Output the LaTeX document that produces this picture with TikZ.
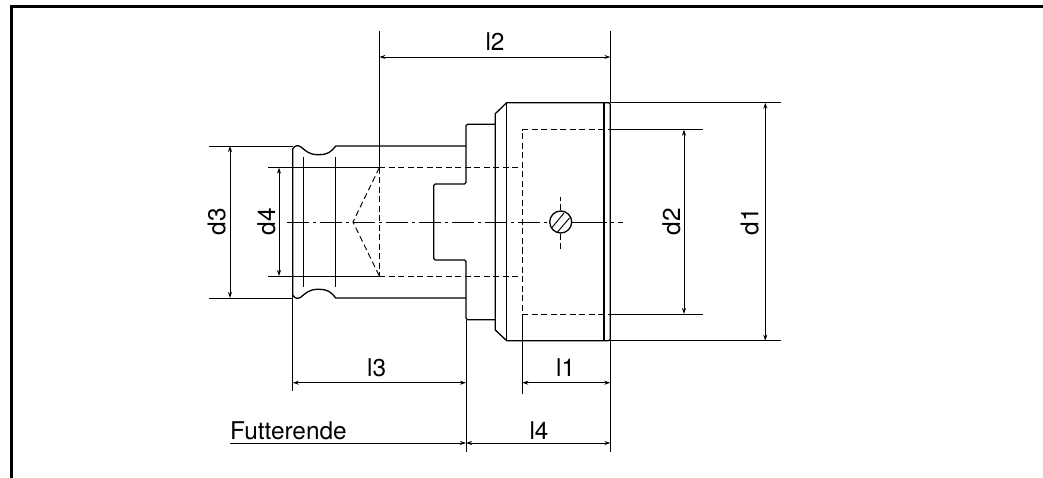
\documentclass[tikz,border=0pt]{standalone}
\usepackage{fontspec}
\setmainfont{TeX Gyre Heros}
\usetikzlibrary{arrows.meta}
\begin{document}
\begin{tikzpicture}[x=1pt,y=-1pt,
  outline/.style={line width=1.3pt,line join=round},
  thin line/.style={line width=0.95pt},
  hidden/.style={line width=0.95pt,dash pattern=on 6pt off 3.5pt},
  axis/.style={line width=0.9pt,dash pattern=on 22pt off 4pt on 3pt off 4pt},
  dim/.style={line width=0.9pt,{Stealth[length=6pt,width=4pt]}-{Stealth[length=6pt,width=4pt]}},
  label/.style={font=\fontsize{24.4}{26}\selectfont,inner sep=0pt,anchor=base},
  side label/.style={label,rotate=90}]
  \useasboundingbox (0,0) rectangle (1043,478);
  % frame
  \draw [line width=3pt] (11,478) -- (11,6.5) -- (1043,6.5);
  % shank
  \draw [outline] (466,146) -- (335.7,146) .. controls (331,152) and (328,154.7) .. (318.3,154.7)
    .. controls (309,154.7) and (306,151) .. (301,147) .. controls (298,145) and (295,145) .. (292.7,149)
    -- (292.7,295) .. controls (295,299) and (298,299) .. (301,297) .. controls (306,293) and (309,289.3) .. (318.3,289.3)
    .. controls (328,289.3) and (331,292) .. (335.7,298) -- (466,298);
  \draw [thin line] (303.7,156.7) -- (303.7,287);
  \draw [thin line] (335,156.7) -- (335,287);
  % collar and recess
  \draw [outline,rounded corners=1.5pt] (495.3,124.3) -- (466,124.3) -- (466,184) -- (433.7,184) -- (433.7,260)
    -- (466,260) -- (466,319.7) -- (495.3,319.7);
  % head
  \draw [outline] (604,102.7) -- (506.7,102.7) -- (495.3,113.7) -- (495.3,330) -- (506.7,340.7) -- (604,340.7);
  \draw [outline] (506.7,102.7) -- (506.7,340.7);
  \draw [line width=2.8pt] (604,102.7) -- (604,340.7);
  \draw [outline,rounded corners=2pt] (604,102.7) -- (610.3,102.7) -- (610.3,340.7) -- (604,340.7);
  % hidden edges
  \draw [hidden] (379.3,167.7) -- (522.3,167.7);
  \draw [hidden] (379.3,276) -- (522.3,276);
  \draw [hidden] (379.3,167.7) -- (379.3,276);
  \draw [hidden] (379.3,167.7) -- (353,222) -- (379.3,276);
  \draw [hidden] (604,129.7) -- (522.3,129.7) -- (522.3,314) -- (604,314);
  % cross hole
  \node (hole) [circle,draw,line width=1.3pt,minimum size=22pt,inner sep=0pt] at (560.7,222) {};
  \draw [thin line] (552,227.5) -- (564,213);
  \draw [thin line] (557.5,232) -- (569.5,218);
  \draw [hidden] (hole.north) -- (560.7,196.7);
  \draw [hidden] (hole.south) -- (560.7,250);
  % centre line
  \draw [axis] (287,222) -- (hole.west);
  \draw [thin line] (hole.east) -- (585,222);
  \draw [axis] (585,222) -- (623,222);
  % extension lines
  \draw [thin line] (379.3,31) -- (379.3,167.7);
  \draw [thin line] (610.3,31) -- (610.3,102.7);
  \draw [thin line] (610.3,340.7) -- (610.3,451.7);
  \draw [thin line] (466,319.7) -- (466,451.7);
  \draw [thin line] (292.7,295) -- (292.7,390.7);
  \draw [thin line] (522.3,314) -- (522.3,394);
  \draw [thin line] (209,146) -- (292.7,146);
  \draw [thin line] (209,298) -- (292.7,298);
  \draw [thin line] (268,167.7) -- (379.3,167.7);
  \draw [thin line] (268,276) -- (379.3,276);
  \draw [thin line] (610.3,102.7) -- (780.7,102.7);
  \draw [thin line] (610.3,340.7) -- (780.7,340.7);
  \draw [thin line] (608,129.7) -- (702.7,129.7);
  \draw [thin line] (608,314) -- (702.7,314);
  % dimensions
  \coordinate (d1a) at (765.3,102.7);
  \coordinate (d1b) at (765.3,340.7);
  \coordinate (d2a) at (684,129.7);
  \coordinate (d2b) at (684,314);
  \coordinate (d3a) at (230,146);
  \coordinate (d3b) at (230,298);
  \coordinate (d4a) at (279,167.7);
  \coordinate (d4b) at (279,276);
  \coordinate (l1a) at (522.3,382.7);
  \coordinate (l1b) at (610.3,382.7);
  \coordinate (l2a) at (379.3,57);
  \coordinate (l2b) at (610.3,57);
  \coordinate (l3a) at (292.7,382.7);
  \coordinate (l3b) at (466,382.7);
  \coordinate (l4a) at (466,443);
  \coordinate (l4b) at (610.3,443);
  \coordinate (fe) at (230,443);
  \draw [dim] (d1a) -- (d1b);
  \draw [dim] (d2a) -- (d2b);
  \draw [dim] (d3a) -- (d3b);
  \draw [dim] (d4a) -- (d4b);
  \draw [dim] (l1a) -- (l1b);
  \draw [dim] (l2a) -- (l2b);
  \draw [dim] (l3a) -- (l3b);
  \draw [dim] (l4a) -- (l4b);
  \draw [line width=0.9pt,-{Stealth[length=6pt,width=4pt]}] (fe) -- (l4a);
  % labels
  \node (d1) [side label] at (758.3,222) {d1};
  \node (d2) [side label] at (680,222) {d2};
  \node (d3) [side label] at (225.3,222) {d3};
  \node (d4) [side label] at (275,222) {d4};
  \node (l1) [label] at (565.7,376.5) {l1};
  \node (l2) [label] at (495,51) {l2};
  \node (l3) [label] at (376.7,376) {l3};
  \node (l4) [label] at (539,439) {l4};
  \node (fut) [label,anchor=base west] at (230,439.7) {Futterende};
\end{tikzpicture}
\end{document}
